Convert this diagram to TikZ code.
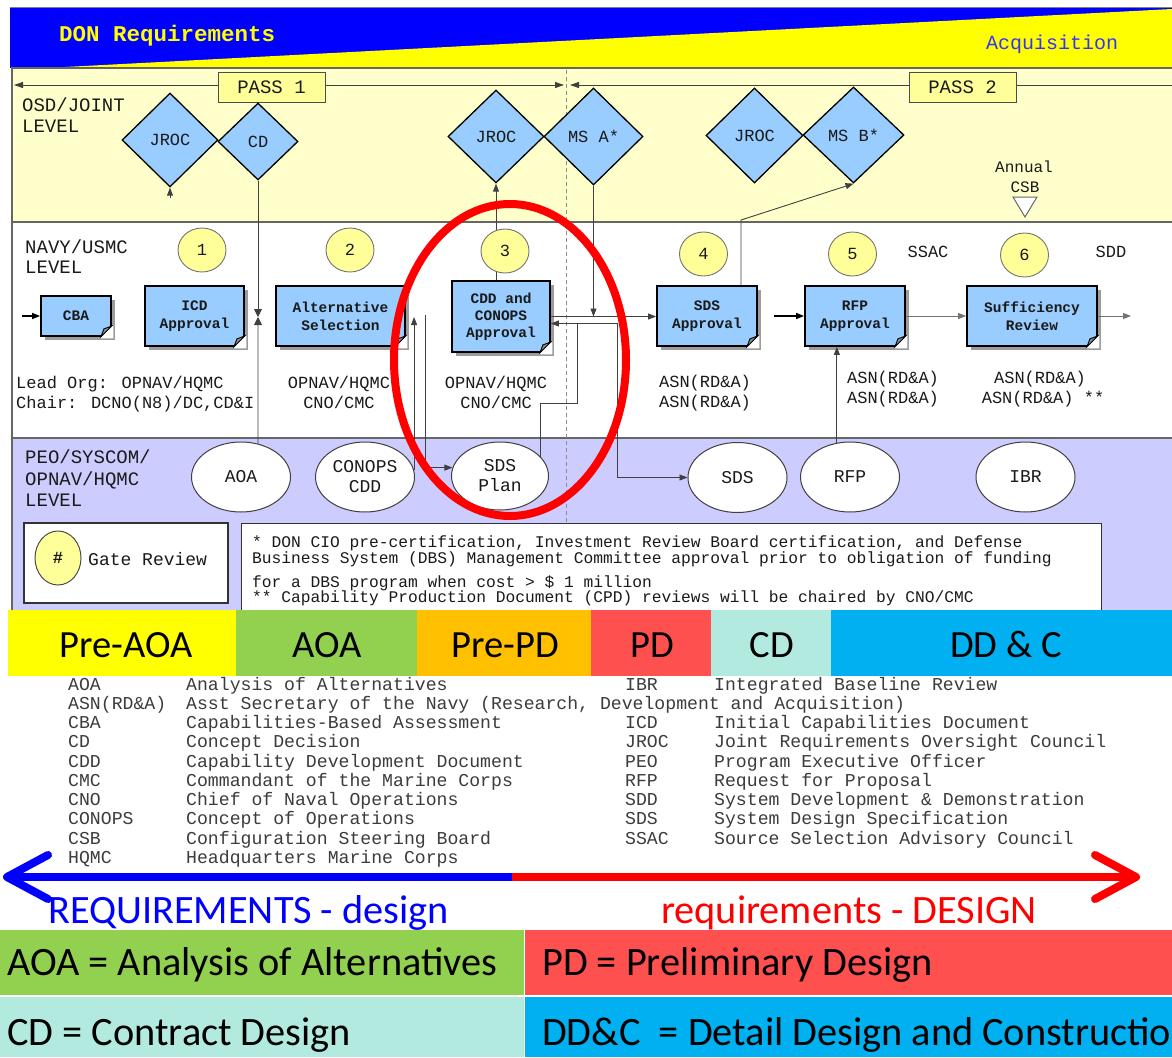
\documentclass[tikz,border=0pt]{standalone}
\usepackage{fontspec}
\setmainfont{Carlito}
\newfontfamily\monof{Liberation Mono}
\usetikzlibrary{calc,shapes.geometric,arrows.meta,shadows}
\definecolor{banblue}{HTML}{0000FF}
\definecolor{banyel}{HTML}{FFFF00}
\definecolor{osdyel}{HTML}{FFFFCC}
\definecolor{peolav}{HTML}{CCCCFF}
\definecolor{passyel}{HTML}{FFFF99}
\definecolor{boxblue}{HTML}{99CCFF}
\definecolor{circyel}{HTML}{FFFF99}
\definecolor{acqblue}{HTML}{3333FF}
\definecolor{inkc}{HTML}{1A1A1A}
\definecolor{glossc}{HTML}{3C3C3C}
\definecolor{bandyel}{HTML}{FFFF00}
\definecolor{bandgrn}{HTML}{92D050}
\definecolor{bandorg}{HTML}{FFC000}
\definecolor{bandred}{HTML}{FF5050}
\definecolor{bandcyn}{HTML}{B3EAE0}
\definecolor{bandblu}{HTML}{00B0F0}
\newcommand\fsz[2]{\fontsize{#1}{#2}\selectfont}
\newcommand\dogear[1]{%
  \fill[white] ($(#1.south east)+(-12,1.5)$) -- ($(#1.south east)+(1.5,1.5)$) -- ($(#1.south east)+(1.5,-12)$) -- cycle;
  \filldraw[fill=black!45, draw=black, line width=0.9pt] ($(#1.south east)+(-11,0)$) -- ($(#1.south east)+(0,-11)$) -- ($(#1.south east)+(-8,-8)$) -- cycle;}
\begin{document}
\begin{tikzpicture}[x=1pt,y=-1pt,
  tri/.style={-{Triangle[length=8pt,width=6pt]}},
  conn/.style={draw=black!75, line width=0.9pt},
  diam/.style={diamond, draw=black, line width=1.3pt, fill=boxblue, inner sep=0pt, font=\monof\fsz{17}{19}, text=inkc},
  docbox/.style={rectangle, draw=black, line width=1.8pt, fill=boxblue, inner sep=0pt, align=center, font=\monof\bfseries\fsz{14.5}{18}, text=inkc, drop shadow={shadow xshift=3.5pt, shadow yshift=-3.5pt, opacity=0.7, fill=black!55}},
  numc/.style={ellipse, draw=black!55, line width=0.9pt, fill=circyel, minimum width=48pt, minimum height=44pt, inner sep=0pt, font=\monof\fsz{17}{19}, text=inkc},
  lowell/.style={ellipse, draw=black!75, line width=1pt, fill=white, minimum width=99pt, minimum height=70pt, inner sep=0pt, align=center, font=\monof\fsz{18}{20}, text=inkc},
  lbl/.style={inner sep=0pt, font=\monof\fsz{19}{21}, text=inkc, anchor=base west},
  org/.style={inner sep=0pt, font=\monof\fsz{17}{20}, text=inkc, anchor=base},
  gl/.style={inner sep=0pt, font=\monof\fsz{18.15}{19}, text=glossc, anchor=base west},
  notetxt/.style={inner sep=0pt, font=\monof\fsz{16.25}{18}, text=inkc, anchor=base west},
  bandtxt/.style={inner sep=0pt, font=\fsz{38.5}{40}, text=black, anchor=base},
  bigtxt/.style={inner sep=0pt, font=\fsz{40.3}{42}, anchor=base west},
  passbox/.style={draw=black!70, line width=1pt, fill=passyel, minimum width=107pt, minimum height=30pt, inner sep=0pt, font=\monof\fsz{19}{21}, text=inkc}
]
\useasboundingbox (0,0) rectangle (1172,1057);
\clip (0,0) rectangle (1172,1057);
\fill[white] (0,0) rectangle (1172,1057);
% banner
\fill[banblue] (10,8) rectangle (1172,68);
\fill[banyel] (46,68) -- (1172,68) -- (1172,9) -- cycle;
\draw[black!50, line width=1pt] (10,8) -- (1172,8);
% panels
\fill[osdyel] (12,68) rectangle (1172,222);
\fill[white] (12,222) rectangle (1172,438);
\fill[peolav] (12,438) rectangle (1172,612);
\draw[black!60, line width=1.2pt] (12,612) -- (12,68) -- (1172,68);
\draw[black!60, line width=1.2pt] (12,222) -- (1172,222);
\draw[black!60, line width=1.2pt] (12,438) -- (1172,438);
\draw[black!45, line width=1pt, dash pattern=on 4pt off 3pt] (566,70) -- (566,523);
% banner texts
\node[inner sep=0pt, anchor=base west, font=\monof\bfseries\fsz{22.5}{24}, text=banyel] (donreq) at (59,42) {DON Requirements};
\node[inner sep=0pt, anchor=base west, font=\monof\fsz{20}{22}, text=acqblue] (acq) at (986,50) {Acquisition};
% pass lines
\coordinate (p1l) at (14,85); \coordinate (p1r) at (564,85);
\coordinate (p2l) at (570,85); \coordinate (p2r) at (1190,85);
\draw[conn, {Triangle[length=9pt,width=6pt]}-{Triangle[length=9pt,width=6pt]}] (p1l) -- (p1r);
\draw[conn, {Triangle[length=9pt,width=6pt]}-{Triangle[length=9pt,width=6pt]}] (p2l) -- (p2r);
\node[passbox] (pass1) at (271.5,87) {PASS 1};
\node[passbox] (pass2) at (962.5,87) {PASS 2};
% level labels
\node[lbl] (osd1) at (22,111) {OSD/JOINT};
\node[lbl] (osd2) at (22,132) {LEVEL};
\node[lbl] (navy1) at (25,253) {NAVY/USMC};
\node[lbl] (navy2) at (25,273) {LEVEL};
\node[lbl] (peo1) at (25,463) {PEO/SYSCOM/};
\node[lbl] (peo2) at (25,485) {OPNAV/HQMC};
\node[lbl] (peo3) at (25,506) {LEVEL};
% diamonds
\node[diam, minimum width=96pt, minimum height=94pt] (jroc1) at (170,140) {JROC};
\node[diam, minimum width=80pt, minimum height=77pt] (cd) at (258,141.5) {CD};
\node[diam, minimum width=96pt, minimum height=93pt] (jroc2) at (496,136.5) {JROC};
\node[diam, minimum width=99pt, minimum height=97pt] (msa) at (593.5,136.5) {MS A*};
\node[diam, minimum width=97pt, minimum height=95pt] (jroc3) at (754.5,135.5) {JROC};
\node[diam, minimum width=101pt, minimum height=96pt] (msb) at (853.5,135) {MS B*};
% annual CSB
\node[inner sep=0pt, font=\monof\fsz{16}{18}, text=inkc, anchor=base] (annual) at (1024,172.5) {Annual};
\node[inner sep=0pt, font=\monof\fsz{16}{18}, text=inkc, anchor=base] (csb) at (1025,192.5) {CSB};
\draw[black!60, line width=1pt, fill=white] (1013,197) -- (1037,197) -- (1025,217) -- cycle;
% document boxes
\node[docbox, minimum width=70pt, minimum height=40pt] (cba) at (76,316) {CBA};
\node[docbox, minimum width=99pt, minimum height=60pt] (icd) at (194.5,316) {ICD\\Approval};
\node[docbox, minimum width=129pt, minimum height=60pt] (alt) at (340.5,316) {Alternative\\Selection};
\node[docbox, minimum width=98pt, minimum height=71pt, font=\monof\bfseries\fsz{14.5}{17}] (cdd) at (501,316.5) {CDD and\\CONOPS\\Approval};
\node[docbox, minimum width=100pt, minimum height=60pt] (sdsapp) at (707,316) {SDS\\Approval};
\node[docbox, minimum width=100pt, minimum height=60pt] (rfpapp) at (855,316) {RFP\\Approval};
\node[docbox, minimum width=130pt, minimum height=60pt] (suff) at (1032,316) {Sufficiency\\Review};
\dogear{cba}\dogear{icd}\dogear{alt}\dogear{cdd}\dogear{sdsapp}\dogear{rfpapp}\dogear{suff}
% low ellipses
\node[lowell] (aoa) at (241,477) {AOA};
\node[lowell] (conops) at (365,477) {CONOPS\\CDD};
\node[lowell, minimum width=97pt, minimum height=68pt] (sdsplan) at (500,476) {SDS\\Plan};
\node[lowell] (sds) at (737.5,477.5) {SDS};
\node[lowell] (rfp) at (850,477) {RFP};
\node[lowell] (ibr) at (1025.5,477) {IBR};
% connectors
\draw[conn, tri] ($(jroc1.south)+(0,10)$) -- (jroc1.south);
\coordinate (hg) at (258,317);
\draw[conn, -{Triangle[length=8pt,width=8pt]}] (cd.south) -- (hg);
\draw[conn, -{Triangle[length=8pt,width=8pt]}] (aoa.63) -- (hg);
\draw[conn, tri] (jroc2.south |- cdd.north) -- (jroc2.south);
\draw[conn, tri] (msa.south) -- (msa.south |- cdd.east);
\draw[conn, tri] (cdd.east) -- (cdd.east -| sdsapp.west);
\coordinate (fb1) at (577,403);
\draw[conn, tri] (sdsplan.25) |- (fb1) |- ($(cdd.east)+(0,7)$);
\coordinate (j2) at (617,323.5);
\draw[conn, tri] ($(cdd.east)+(0,7)$) -- (j2) |- (sds.west);
\coordinate (k) at (741,220);
\draw[conn, tri] (k |- sdsapp.north) -- (k) -- (msb.south);
\draw[black, line width=1.5pt, tri, shorten <=16pt] (sdsapp.east) -- (rfpapp.west);
\draw[draw=black!55, line width=0.9pt, tri] (rfpapp.east) -- (suff.west);
\coordinate (outr) at (1131,316);
\draw[draw=black!55, line width=0.9pt, tri] (suff.east) -- (outr);
\coordinate (inl) at (22,316);
\draw[black, line width=1.3pt, tri] (inl) -- (cba.west);
\draw[conn, tri] (rfp.111) -- (rfp.111 |- rfpapp.south);
\coordinate (up1) at (413,317);
\draw[conn, tri] (conops.8) -- (conops.8 |- up1);
\coordinate (dn1) at (425,315);
\draw[conn, tri] (dn1) |- (sdsplan.170);
% numbered circles
\node[numc] (c1) at (202,250) {1};
\node[numc] (c2) at (350,250) {2};
\node[numc] (c3) at (505,251) {3};
\node[numc] (c4) at (703.5,254) {4};
\node[numc] (c5) at (852.5,254) {5};
\node[numc] (c6) at (1024.5,255) {6};
\node[org] (ssac) at (928,257) {SSAC};
\node[org] (sdd) at (1111,257) {SDD};
% org texts
\node[inner sep=0pt, font=\monof\fsz{17}{20}, text=inkc, anchor=base west] (lead1) at (16,388) {Lead Org: OPNAV/HQMC};
\node[inner sep=0pt, font=\monof\fsz{17}{20}, text=inkc, anchor=base west] (lead2) at (16,408) {Chair: DCNO(N8)/DC,CD\&I};
\node[org] (o2a) at (339,388) {OPNAV/HQMC};
\node[org] (o2b) at (339,408) {CNO/CMC};
\node[org] (o3a) at (496,388) {OPNAV/HQMC};
\node[org] (o3b) at (496,408) {CNO/CMC};
\node[org] (o4a) at (705,387) {ASN(RD\&A)};
\node[org] (o4b) at (705,407) {ASN(RD\&A)};
\node[org] (o5a) at (893,383) {ASN(RD\&A)};
\node[org] (o5b) at (893,403) {ASN(RD\&A)};
\node[org] (o6a) at (1040,383) {ASN(RD\&A)};
\node[org] (o6b) at (1043,403) {ASN(RD\&A) **};
% red ellipse
\draw[red, line width=8pt] (510,360) ellipse [x radius=116pt, y radius=156pt];
% gate review
\node[draw=black!80, line width=1.3pt, fill=white, minimum width=204pt, minimum height=80pt, inner sep=0pt] (gate) at (126,563) {};
\node[ellipse, draw=black!70, line width=1pt, fill=circyel, minimum width=46pt, minimum height=54pt, inner sep=0pt, font=\monof\bfseries\fsz{17}{19}, text=inkc] (hash) at (58,558) {\#};
\node[lbl, font=\monof\fsz{18}{20}] (gatetxt) at (88,565) {Gate Review};
% note box
\node[draw=black!80, line width=1.3pt, fill=white, minimum width=860pt, minimum height=127pt, inner sep=0pt, anchor=north west] (notebox) at (241,523) {};
\node[notetxt] (n1) at (252,547) {* DON CIO pre-certification, Investment Review Board certification, and Defense};
\node[notetxt] (n2) at (252,563) {Business System (DBS) Management Committee approval prior to obligation of funding};
\node[notetxt] (n3) at (252,587) {for a DBS program when cost > \$ 1 million};
\node[notetxt] (n4) at (252,602) {** Capability Production Document (CPD) reviews will be chaired by CNO/CMC};
% band
\fill[bandyel] (8,610) rectangle (236,676);
\fill[bandgrn] (236,610) rectangle (417,676);
\fill[bandorg] (417,610) rectangle (591,676);
\fill[bandred] (591,610) rectangle (711,676);
\fill[bandcyn] (711,610) rectangle (831,676);
\fill[bandblu] (831,610) rectangle (1172,676);
\node[bandtxt] (b1) at (126,657) {Pre-AOA};
\node[bandtxt] (b2) at (327,657) {AOA};
\node[bandtxt] (b3) at (505,657) {Pre-PD};
\node[bandtxt] (b4) at (652,657) {PD};
\node[bandtxt] (b5) at (772,657) {CD};
\node[bandtxt] (b6) at (1006,657) {DD \& C};
% glossary
\foreach \ab/\df [count=\i] in {AOA/Analysis of Alternatives, {ASN(RD\&A)}/{Asst Secretary of the Navy (Research, Development and Acquisition)}, CBA/Capabilities-Based Assessment, CD/Concept Decision, CDD/Capability Development Document, CMC/Commandant of the Marine Corps, CNO/Chief of Naval Operations, CONOPS/Concept of Operations, CSB/Configuration Steering Board, HQMC/Headquarters Marine Corps}{
  \node[gl] (gla\i) at (68,{690+19.25*(\i-1)}) {\ab};
  \node[gl] (gld\i) at (186,{690+19.25*(\i-1)}) {\df};
}
\foreach \ab/\df/\r in {IBR/Integrated Baseline Review/0, ICD/Initial Capabilities Document/2, JROC/Joint Requirements Oversight Council/3, PEO/Program Executive Officer/4, RFP/Request for Proposal/5, SDD/System Development \& Demonstration/6, SDS/System Design Specification/7, SSAC/Source Selection Advisory Council/8}{
  \node[gl] (gra\r) at (625,{690+19.25*\r}) {\ab};
  \node[gl] (grd\r) at (714,{690+19.25*\r}) {\df};
}
% big arrow
\coordinate (la) at (7,877); \coordinate (mid) at (512,877); \coordinate (ra) at (1136,877);
\draw[banblue, line width=8pt] (la) -- (mid);
\draw[red, line width=8pt] (mid) -- (ra);
\draw[banblue, line width=8pt, line cap=round, line join=round] ($(la)+(41,-22)$) -- (la) -- ($(la)+(41,22)$);
\draw[red, line width=8pt, line cap=round, line join=round] ($(ra)+(-41,-22)$) -- (ra) -- ($(ra)+(-41,22)$);
\node[bigtxt, text=banblue] (reqd) at (48,923) {REQUIREMENTS - design};
\node[bigtxt, text=red] (reqD) at (661,923) {requirements - DESIGN};
% bottom legend boxes
\fill[bandgrn] (0,930) rectangle (524,995);
\fill[bandred] (525,930) rectangle (1172,995);
\fill[bandcyn] (0,997) rectangle (524,1057);
\fill[bandblu] (525,997) rectangle (1172,1057);
\node[bigtxt, text=black] (lg1) at (7,975) {AOA = Analysis of Alternatives};
\node[bigtxt, text=black] (lg2) at (542,975) {PD = Preliminary Design};
\node[bigtxt, text=black] (lg3) at (7,1045) {CD = Contract Design};
\node[bigtxt, text=black] (lg4) at (542,1045) {DD\&C\ \ = Detail Design and Construction};
\end{tikzpicture}
\end{document}
